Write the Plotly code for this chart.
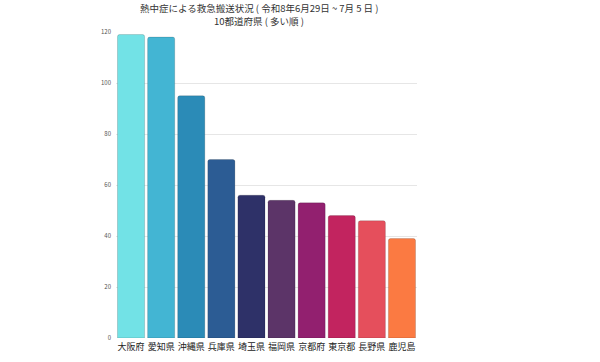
import plotly.graph_objects as go

prefectures = ["大阪府", "愛知県", "沖縄県", "兵庫県", "埼玉県", "福岡県", "京都府", "東京都", "長野県", "鹿児島"]
counts = [119, 118, 95, 70, 56, 54, 53, 48, 46, 39]
colors = ["#72e2e6", "#43b5d3", "#2b8bb7", "#2c5c94", "#2e3168",
          "#5c3468", "#92206f", "#c2245f", "#e54f5c", "#fb7a42"]
y_ticks = [0, 20, 40, 60, 80, 100, 120]
title_lines = ["熱中症による救急搬送状況 ( 令和8年6月29日 ~ 7月 5 日 )", "10都道府県 ( 多い順 )"]

fig = go.Figure(go.Bar(
    x=prefectures, y=counts,
    marker=dict(color=colors, line=dict(color="rgba(0,0,0,0.15)", width=1)),
))
fig.update_layout(
    width=600, height=362,
    margin=dict(l=116, r=183, t=32, b=24),
    paper_bgcolor="white", plot_bgcolor="white",
    bargap=0.1, barcornerradius=2,
    font=dict(family="Noto Sans CJK JP", color="#333"),
    showlegend=False,
)
for txt, yy in zip(title_lines, [1.078, 1.036]):
    fig.add_annotation(text=txt, xref="paper", yref="paper", x=0.475, y=yy,
                       xanchor="center", yanchor="middle", showarrow=False,
                       font=dict(size=9.5, color="#333"))
fig.update_yaxes(range=[0, 120], tickvals=y_ticks, showgrid=True, gridcolor="#e6e6e6",
                 tickfont=dict(size=6, color="#555"), zeroline=False, showline=False,
                 ticks="", ticklabelstandoff=4, automargin=False)
fig.update_xaxes(tickfont=dict(size=9, color="#222"), showline=False, ticks="",
                 ticklabelstandoff=2, automargin=False)
fig.write_html("out.html")
